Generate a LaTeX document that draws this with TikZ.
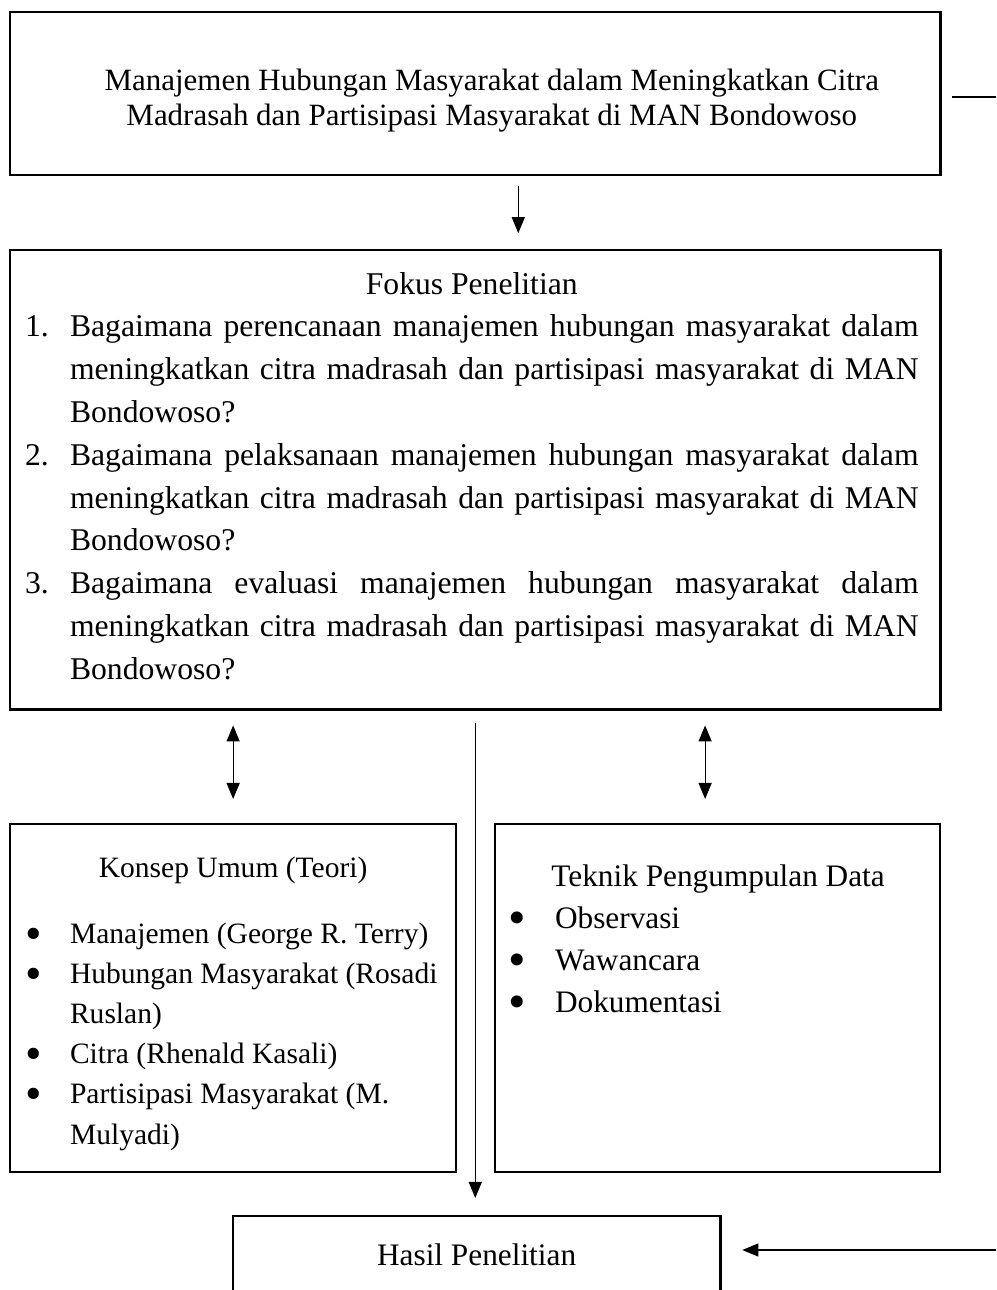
\documentclass[tikz,border=0pt]{standalone}
\usepackage{fontspec}
\setmainfont{Liberation Serif}
\usetikzlibrary{arrows.meta, positioning}

\newcommand{\nomor}[2]{\par\noindent\hangindent=0.45cm\hangafter=1\makebox[0.45cm][l]{#1}#2\par}
\newcommand{\bulat}{\smash{\raisebox{-0.2em}{\scalebox{1.6}{\textbullet}}}}
\newcommand{\titik}[2][0.45cm]{\par\noindent\hangindent=#1\hangafter=1\makebox[#1][l]{\bulat}#2\par}

\begin{document}
\begin{tikzpicture}[
  x=0.01cm, y=-0.01cm,
  kotak/.style={draw, line width=0.7pt, inner sep=0pt, outer sep=0pt},
  garis/.style={line width=0.35pt},
  panah/.style={line width=0.35pt, -{Triangle[length=0.16cm, width=0.13cm]}},
  panahdua/.style={line width=0.35pt, {Triangle[length=0.16cm, width=0.13cm]}-{Triangle[length=0.16cm, width=0.13cm]}}]

  \useasboundingbox (0,0) rectangle (996,1290);
  \clip (0,0) rectangle (996,1290);

  % judul
  \node[kotak, anchor=north west] (judul) at (10,12) {%
    \kern0.33cm\begin{minipage}[c][1.63cm][t]{8.97cm}
      \centering\fontsize{8.8}{9.96}\selectfont
      \vspace*{0.57cm}
      Manajemen Hubungan Masyarakat dalam Meningkatkan Citra\\
      Madrasah dan Partisipasi Masyarakat di MAN Bondowoso
    \end{minipage}};

  % fokus penelitian
  \node[kotak, below=0.75cm of judul] (fokus) {%
    \kern0.15cm\begin{minipage}[c][4.59cm][t]{8.93cm}
      \fontsize{9}{12.17}\selectfont
      \vspace*{0.22cm}
      {\centering Fokus Penelitian\par}
      \nomor{1.}{Bagaimana perencanaan manajemen hubungan masyarakat dalam\linebreak
        meningkatkan citra madrasah dan partisipasi masyarakat di MAN\linebreak
        Bondowoso?}
      \nomor{2.}{Bagaimana pelaksanaan manajemen hubungan masyarakat dalam\linebreak
        meningkatkan citra madrasah dan partisipasi masyarakat di MAN\linebreak
        Bondowoso?}
      \nomor{3.}{Bagaimana evaluasi manajemen hubungan masyarakat dalam\linebreak
        meningkatkan citra madrasah dan partisipasi masyarakat di MAN\linebreak
        Bondowoso?}
    \end{minipage}\kern0.22cm};

  % konsep dan teknik
  \node[kotak, anchor=north west] (konsep) at (10,824) {%
    \kern0.15cm\begin{minipage}[c][3.48cm][t]{4.16cm}
      \raggedright\fontsize{8.4}{11.4}\selectfont
      \vspace*{0.33cm}
      {\centering Konsep Umum (Teori)\par}
      \vspace{0.26cm}
      \titik{Manajemen (George R. Terry)}
      \titik{Hubungan Masyarakat (Rosadi\newline Ruslan)}
      \titik{Citra (Rhenald Kasali)}
      \titik{Partisipasi Masyarakat (M.\newline Mulyadi)}
    \end{minipage}\kern0.15cm};
  \node[kotak, anchor=north west] (teknik) at (495,824) {%
    \kern0.13cm\begin{minipage}[c][3.48cm][t]{4.2cm}
      \raggedright\fontsize{8.9}{11.95}\selectfont
      \vspace*{0.405cm}
      {\centering Teknik Pengumpulan Data\par}
      \titik[0.47cm]{Observasi}
      \titik[0.47cm]{Wawancara}
      \titik[0.47cm]{Dokumentasi}
    \end{minipage}\kern0.12cm};

  % hasil
  \node[kotak, anchor=north west] (hasil) at (233,1216) {%
    \begin{minipage}[c][0.9cm][t]{4.87cm}
      \centering\fontsize{8.9}{11}\selectfont
      \vspace*{0.275cm}
      Hasil Penelitian
    \end{minipage}};

  \coordinate (ujung1) at (996,97);
  \coordinate (ujung2) at (996,1250);

  \draw[garis] ([xshift=0.11cm]judul.east |- ujung1) -- (ujung1);
  \draw[panah, shorten <=0.11cm, shorten >=0.17cm] ([xshift=0.43cm]judul.south) -- ([xshift=0.43cm]fokus.north);
  \draw[panahdua, shorten <=0.25cm, shorten >=0.16cm] (konsep.north) -- (konsep.north |- fokus.south);
  \draw[panahdua, shorten <=0.25cm, shorten >=0.16cm] ([xshift=-0.125cm]teknik.north) -- ([xshift=-0.125cm]teknik.north |- fokus.south);
  \draw[panah, shorten <=0.14cm, shorten >=0.18cm] (fokus.south) -- (fokus.south |- hasil.north);
  \draw[panah, shorten >=0.22cm] (ujung2) -- (ujung2 -| hasil.east);
\end{tikzpicture}
\end{document}
